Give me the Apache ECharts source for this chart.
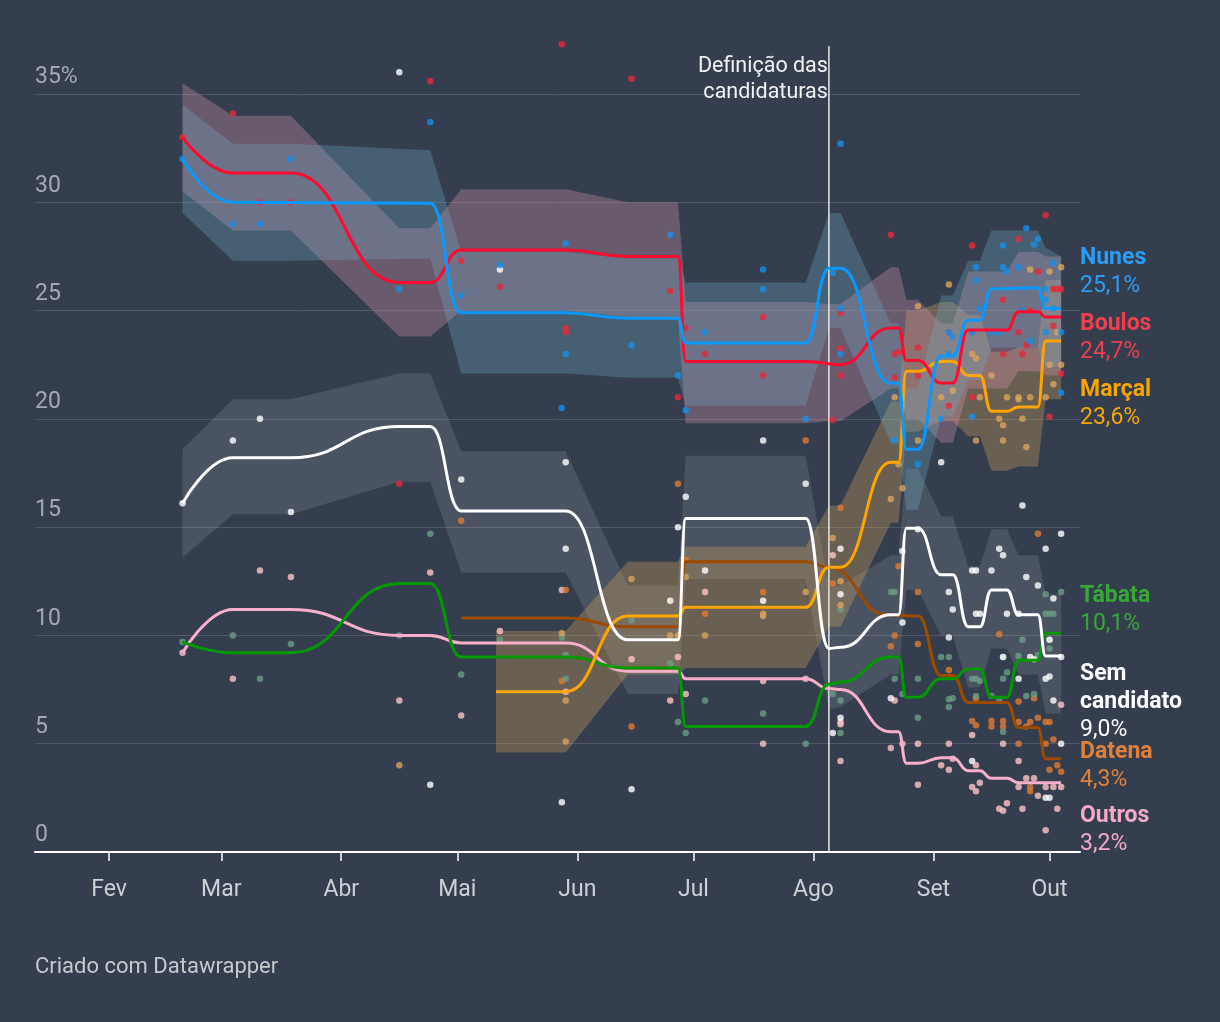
<!DOCTYPE html>
<html><head><meta charset="utf-8">
<script src="https://cdn.jsdelivr.net/npm/echarts@6/dist/echarts.min.js"></script>
<style>html,body{margin:0;padding:0;background:#343e4f;}#chart{width:1220px;height:1022px;}</style>
</head><body><div id="chart"></div>
<script>
// ---------- DATA ----------
const MONTH_TICKS = ['2024-02-01','2024-03-01','2024-04-01','2024-05-01','2024-06-01','2024-07-01','2024-08-01','2024-09-01','2024-10-01'];
const MONTH_LABELS = ['Fev','Mar','Abr','Mai','Jun','Jul','Ago','Set','Out'];
const ANNOT_DATE = '2024-08-05';
const ANNOT_TEXT = 'Definição das\ncandidaturas';

const NUNES_LINE = [['2024-02-20',32.0],['2024-03-04',30.0],['2024-04-24',29.95],['2024-05-02',24.9],['2024-05-29',24.9],['2024-06-14',24.65],['2024-06-27',24.65],['2024-06-29',23.5],['2024-07-30',23.5],['2024-08-05',26.95],['2024-08-08',26.95],['2024-08-21',21.65],['2024-08-23',21.65],['2024-08-25',18.6],['2024-08-28',18.6],['2024-09-03',22.9],['2024-09-06',22.9],['2024-09-10',24.55],['2024-09-13',24.55],['2024-09-16',26.0],['2024-09-28',26.05],['2024-09-30',25.1],['2024-10-04',25.1]];
const BOULOS_LINE = [['2024-02-20',33.0],['2024-03-04',31.35],['2024-03-19',31.35],['2024-04-16',26.3],['2024-04-24',26.3],['2024-05-02',27.8],['2024-05-29',27.8],['2024-06-14',27.5],['2024-06-27',27.5],['2024-06-29',22.65],['2024-07-30',22.65],['2024-08-08',22.5],['2024-08-21',24.2],['2024-08-23',24.2],['2024-08-25',22.7],['2024-08-28',22.7],['2024-09-03',21.65],['2024-09-06',21.65],['2024-09-10',24.1],['2024-09-20',24.1],['2024-09-23',24.95],['2024-09-28',24.95],['2024-09-30',24.7],['2024-10-04',24.7]];
const MARCAL_LINE = [['2024-05-11',7.4],['2024-05-29',7.4],['2024-06-14',10.9],['2024-06-27',10.9],['2024-06-29',11.3],['2024-07-30',11.3],['2024-08-05',13.15],['2024-08-08',13.15],['2024-08-21',18.0],['2024-08-23',18.0],['2024-08-25',22.2],['2024-08-28',22.2],['2024-09-03',22.65],['2024-09-06',22.65],['2024-09-10',22.0],['2024-09-13',22.0],['2024-09-16',20.35],['2024-09-20',20.35],['2024-09-23',20.55],['2024-09-28',20.55],['2024-09-30',23.6],['2024-10-04',23.6]];
const SEM_LINE = [['2024-02-20',16.1],['2024-03-04',18.2],['2024-03-19',18.2],['2024-04-16',19.65],['2024-04-24',19.65],['2024-05-02',15.75],['2024-05-29',15.75],['2024-06-14',9.8],['2024-06-27',9.8],['2024-06-29',15.4],['2024-07-30',15.4],['2024-08-05',9.4],['2024-08-08',9.45],['2024-08-21',10.95],['2024-08-23',10.95],['2024-08-25',14.95],['2024-08-28',14.95],['2024-09-03',12.8],['2024-09-06',12.8],['2024-09-10',10.4],['2024-09-13',10.4],['2024-09-16',12.1],['2024-09-20',12.1],['2024-09-23',10.95],['2024-09-28',10.95],['2024-09-30',9.05],['2024-10-04',9.05]];
const TABATA_LINE = [['2024-02-20',9.7],['2024-03-04',9.2],['2024-03-19',9.2],['2024-04-16',12.4],['2024-04-24',12.4],['2024-05-02',9.0],['2024-05-29',9.0],['2024-06-14',8.5],['2024-06-27',8.5],['2024-06-29',5.8],['2024-07-30',5.8],['2024-08-05',7.75],['2024-08-08',7.85],['2024-08-21',9.0],['2024-08-23',9.0],['2024-08-25',7.15],['2024-08-28',7.15],['2024-09-03',8.0],['2024-09-06',8.0],['2024-09-10',8.45],['2024-09-13',8.45],['2024-09-16',7.15],['2024-09-20',7.15],['2024-09-23',8.85],['2024-09-28',8.85],['2024-09-30',10.1],['2024-10-04',10.1]];
const DATENA_LINE = [['2024-05-02',10.8],['2024-05-29',10.8],['2024-06-14',10.4],['2024-06-27',10.4],['2024-06-29',13.4],['2024-07-30',13.4],['2024-08-05',13.15],['2024-08-20',10.95],['2024-08-28',10.9],['2024-09-03',8.15],['2024-09-06',8.15],['2024-09-10',6.9],['2024-09-20',6.9],['2024-09-23',5.75],['2024-09-28',5.75],['2024-09-30',4.3],['2024-10-04',4.3]];
const OUTROS_LINE = [['2024-02-20',9.2],['2024-03-04',11.2],['2024-03-19',11.2],['2024-04-16',10.0],['2024-04-24',10.0],['2024-05-02',9.65],['2024-05-29',9.65],['2024-06-14',8.35],['2024-06-27',8.35],['2024-06-29',8.0],['2024-07-30',8.0],['2024-08-05',7.55],['2024-08-08',7.5],['2024-08-21',5.55],['2024-08-23',5.55],['2024-08-25',4.1],['2024-08-28',4.1],['2024-09-03',4.35],['2024-09-06',4.35],['2024-09-10',3.75],['2024-09-13',3.75],['2024-09-16',3.4],['2024-09-20',3.4],['2024-09-23',3.2],['2024-10-04',3.2]];

// bands: [date, low, high]
const NUNES_BAND = [['2024-02-20',29.5,34.5],['2024-03-04',27.3,32.7],['2024-03-19',27.3,32.7],['2024-04-24',27.4,32.4],['2024-05-02',22.1,27.7],['2024-05-29',22.1,27.7],['2024-06-14',21.9,27.4],['2024-06-27',21.9,27.4],['2024-06-29',20.6,26.3],['2024-07-30',20.6,26.3],['2024-08-05',24.2,29.5],['2024-08-08',24.2,29.5],['2024-08-21',18.9,24.4],['2024-08-23',18.9,24.4],['2024-08-25',15.8,21.4],['2024-08-28',15.8,21.4],['2024-09-03',20.1,25.7],['2024-09-06',20.1,25.7],['2024-09-10',21.8,27.3],['2024-09-13',21.8,27.3],['2024-09-16',23.3,28.7],['2024-09-28',23.3,28.7],['2024-09-30',22.4,27.9],['2024-10-04',22.4,27.5]];
const BOULOS_BAND = [['2024-02-20',30.5,35.5],['2024-03-04',28.7,34.0],['2024-03-19',28.7,34.0],['2024-04-16',23.8,28.8],['2024-04-24',23.8,28.8],['2024-05-02',25.0,30.6],['2024-05-29',25.0,30.6],['2024-06-14',24.7,30.0],['2024-06-27',24.7,30.0],['2024-06-29',19.8,25.4],['2024-07-30',19.8,25.4],['2024-08-05',19.9,25.3],['2024-08-08',19.9,25.3],['2024-08-21',21.4,27.0],['2024-08-23',21.4,27.0],['2024-08-25',20.0,25.5],['2024-08-28',20.0,25.5],['2024-09-03',18.9,24.4],['2024-09-06',18.9,24.4],['2024-09-10',21.4,26.8],['2024-09-20',21.4,26.8],['2024-09-23',22.2,27.7],['2024-09-28',22.2,27.7],['2024-09-30',22.0,27.5],['2024-10-04',22.0,27.5]];
const SEM_BAND = [['2024-02-20',13.6,18.6],['2024-03-04',15.6,20.9],['2024-03-19',15.6,20.9],['2024-04-16',17.1,22.1],['2024-04-24',17.1,22.1],['2024-05-02',12.9,18.5],['2024-05-29',12.9,18.5],['2024-06-14',7.3,12.3],['2024-06-27',7.3,12.3],['2024-06-29',12.6,18.3],['2024-07-30',12.6,18.3],['2024-08-05',6.6,12.2],['2024-08-08',6.7,12.3],['2024-08-21',8.2,13.7],['2024-08-23',8.2,13.7],['2024-08-25',12.1,17.7],['2024-08-28',12.1,17.7],['2024-09-03',10.0,15.5],['2024-09-06',10.0,15.5],['2024-09-10',7.6,13.2],['2024-09-13',7.6,13.2],['2024-09-16',9.4,14.9],['2024-09-20',9.4,14.9],['2024-09-23',8.2,13.7],['2024-09-28',8.2,13.7],['2024-09-30',6.4,11.9],['2024-10-04',6.4,11.9]];
const MARCAL_BAND = [['2024-05-11',4.6,10.2],['2024-05-29',4.6,10.2],['2024-06-14',8.2,13.4],['2024-06-27',8.2,13.4],['2024-06-29',8.5,14.1],['2024-07-30',8.5,14.1],['2024-08-05',10.4,16.0],['2024-08-08',10.4,16.0],['2024-08-21',15.2,20.8],['2024-08-23',15.2,20.8],['2024-08-25',19.4,25.0],['2024-08-28',19.4,25.0],['2024-09-03',19.9,25.4],['2024-09-06',19.9,25.4],['2024-09-10',19.2,24.8],['2024-09-13',19.2,24.8],['2024-09-16',17.6,23.1],['2024-09-20',17.6,23.1],['2024-09-23',17.8,23.3],['2024-09-28',17.8,23.3],['2024-09-30',20.9,26.4],['2024-10-04',20.9,26.4]];

// poll dots
const NUNES_DOTS = [['2024-02-20',32.0],['2024-03-04',29.0],['2024-03-11',29.0],['2024-03-19',32.0],['2024-04-16',26.0],['2024-04-24',33.7],['2024-05-02',25.7],['2024-05-12',27.1],['2024-05-28',20.5],['2024-05-29',28.1],['2024-05-29',23.0],['2024-06-15',23.4],['2024-06-25',28.5],['2024-06-27',22.0],['2024-06-29',20.4],['2024-07-04',24.0],['2024-07-19',26.9],['2024-07-19',26.0],['2024-07-30',20.0],['2024-08-06',26.75],['2024-08-08',32.7],['2024-08-08',25.1],['2024-08-08',23.0],['2024-08-22',19.0],['2024-08-28',17.9],['2024-09-03',20.0],['2024-09-05',24.0],['2024-09-06',23.8],['2024-09-05',23.0],['2024-09-11',24.0],['2024-09-11',20.1],['2024-09-12',27.0],['2024-09-12',26.4],['2024-09-13',25.1],['2024-09-16',24.0],['2024-09-18',24.0],['2024-09-19',28.0],['2024-09-19',27.0],['2024-09-20',26.8],['2024-09-23',27.0],['2024-09-24',25.0],['2024-09-25',28.8],['2024-09-26',23.6],['2024-09-27',28.05],['2024-09-28',28.3],['2024-09-30',26.0],['2024-09-30',25.5],['2024-09-30',24.0],['2024-10-02',27.2],['2024-10-02',25.1],['2024-10-04',24.0],['2024-10-04',21.2]];
const BOULOS_DOTS = [['2024-02-20',33.0],['2024-03-04',34.1],['2024-03-11',30.0],['2024-03-19',30.0],['2024-04-16',17.0],['2024-04-24',35.6],['2024-05-02',27.3],['2024-05-12',26.1],['2024-05-28',37.3],['2024-05-29',24.2],['2024-05-29',24.0],['2024-06-15',35.7],['2024-06-25',25.9],['2024-06-27',21.0],['2024-06-29',24.2],['2024-07-04',23.0],['2024-07-19',24.7],['2024-07-19',22.0],['2024-08-06',19.95],['2024-08-08',24.9],['2024-08-08',23.25],['2024-08-08',22.0],['2024-08-21',28.5],['2024-08-22',23.0],['2024-08-22',21.9],['2024-08-23',23.1],['2024-08-28',23.3],['2024-08-28',22.0],['2024-09-05',24.0],['2024-09-05',20.6],['2024-09-11',28.0],['2024-09-11',24.0],['2024-09-11',21.0],['2024-09-19',25.5],['2024-09-19',23.0],['2024-09-23',28.3],['2024-09-23',24.0],['2024-09-24',23.0],['2024-09-25',23.4],['2024-09-26',25.0],['2024-09-28',26.8],['2024-09-30',29.4],['2024-10-01',20.1],['2024-10-02',24.3],['2024-10-02',26.0],['2024-10-03',26.0],['2024-10-04',26.0],['2024-10-04',22.1]];
const MARCAL_DOTS = [['2024-04-16',4.0],['2024-05-28',10.1],['2024-05-29',7.0],['2024-05-29',5.1],['2024-06-15',12.6],['2024-06-25',10.0],['2024-06-27',10.0],['2024-06-29',12.7],['2024-07-04',10.0],['2024-07-19',11.0],['2024-07-19',10.9],['2024-07-30',12.0],['2024-08-06',14.5],['2024-08-08',12.5],['2024-08-08',11.4],['2024-08-21',16.3],['2024-08-22',21.0],['2024-08-23',17.9],['2024-08-24',16.8],['2024-08-28',25.2],['2024-08-28',19.0],['2024-09-03',21.0],['2024-09-05',26.2],['2024-09-06',21.3],['2024-09-11',23.0],['2024-09-12',22.8],['2024-09-12',19.0],['2024-09-13',21.0],['2024-09-16',22.0],['2024-09-18',20.0],['2024-09-19',19.7],['2024-09-19',19.0],['2024-09-20',21.0],['2024-09-23',21.0],['2024-09-23',20.9],['2024-09-24',20.0],['2024-09-25',18.7],['2024-09-26',21.0],['2024-09-26',26.9],['2024-09-30',21.0],['2024-10-01',26.8],['2024-10-01',22.5],['2024-10-02',21.6],['2024-10-03',24.0],['2024-10-04',27.0],['2024-10-04',22.5]];
const DATENA_DOTS = [['2024-05-02',15.3],['2024-05-28',7.9],['2024-05-29',12.1],['2024-06-15',5.8],['2024-06-27',17.0],['2024-06-29',13.5],['2024-07-04',11.0],['2024-07-19',12.0],['2024-07-30',19.0],['2024-08-06',12.4],['2024-08-08',15.9],['2024-08-21',9.5],['2024-08-22',10.0],['2024-08-23',13.2],['2024-08-28',12.0],['2024-08-28',9.6],['2024-09-05',8.4],['2024-09-11',6.05],['2024-09-12',5.85],['2024-09-12',7.1],['2024-09-16',6.05],['2024-09-16',5.8],['2024-09-18',10.05],['2024-09-19',6.05],['2024-09-19',5.8],['2024-09-23',6.95],['2024-09-23',6.0],['2024-09-23',5.0],['2024-09-25',5.8],['2024-09-26',6.0],['2024-09-26',3.0],['2024-09-26',2.8],['2024-09-27',7.1],['2024-09-28',6.2],['2024-09-28',14.7],['2024-09-30',6.0],['2024-09-30',5.0],['2024-10-01',6.0],['2024-10-01',3.8],['2024-10-02',5.2],['2024-10-03',4.0],['2024-10-04',3.7]];
const TABATA_DOTS = [['2024-02-20',9.7],['2024-03-04',10.0],['2024-03-11',8.0],['2024-03-19',9.6],['2024-04-16',10.0],['2024-04-24',14.7],['2024-05-02',8.2],['2024-05-12',9.8],['2024-05-28',9.9],['2024-05-29',9.1],['2024-05-29',8.0],['2024-06-15',10.7],['2024-06-25',8.7],['2024-06-27',6.0],['2024-06-29',5.5],['2024-07-04',7.0],['2024-07-19',6.4],['2024-07-30',5.0],['2024-08-06',7.3],['2024-08-08',11.2],['2024-08-08',7.0],['2024-08-08',5.5],['2024-08-21',12.0],['2024-08-22',12.0],['2024-08-22',8.0],['2024-08-24',7.3],['2024-08-28',8.0],['2024-08-28',6.2],['2024-09-03',9.0],['2024-09-05',9.0],['2024-09-05',7.05],['2024-09-05',6.7],['2024-09-06',7.1],['2024-09-11',8.0],['2024-09-12',8.0],['2024-09-12',7.2],['2024-09-13',7.9],['2024-09-16',7.2],['2024-09-18',7.0],['2024-09-19',9.0],['2024-09-19',8.0],['2024-09-19',5.55],['2024-09-20',8.3],['2024-09-23',9.05],['2024-09-24',9.8],['2024-09-25',7.2],['2024-09-27',7.3],['2024-09-28',9.1],['2024-09-30',11.9],['2024-09-30',11.0],['2024-10-01',11.0],['2024-10-01',9.8],['2024-10-01',9.4],['2024-10-02',11.0],['2024-10-04',12.0]];
const SEM_DOTS = [['2024-02-20',16.1],['2024-03-04',19.0],['2024-03-11',20.0],['2024-03-19',15.7],['2024-04-16',36.0],['2024-04-24',3.1],['2024-05-02',17.2],['2024-05-12',26.9],['2024-05-28',2.3],['2024-05-29',18.0],['2024-05-29',14.0],['2024-06-15',2.9],['2024-06-25',11.6],['2024-06-27',15.0],['2024-06-29',16.4],['2024-07-04',13.0],['2024-07-19',19.0],['2024-07-19',11.6],['2024-07-30',17.0],['2024-08-06',5.5],['2024-08-08',14.0],['2024-08-08',11.9],['2024-08-08',6.2],['2024-08-21',7.1],['2024-08-24',13.9],['2024-08-24',10.6],['2024-08-28',14.9],['2024-09-03',18.0],['2024-09-05',12.0],['2024-09-05',9.9],['2024-09-06',11.2],['2024-09-11',13.0],['2024-09-11',4.2],['2024-09-12',13.0],['2024-09-12',11.0],['2024-09-13',11.0],['2024-09-16',13.0],['2024-09-18',14.0],['2024-09-19',13.7],['2024-09-19',9.0],['2024-09-20',11.0],['2024-09-23',11.0],['2024-09-23',8.0],['2024-09-24',16.0],['2024-09-25',12.7],['2024-09-26',9.0],['2024-09-27',8.9],['2024-09-28',12.3],['2024-09-30',14.0],['2024-09-30',8.0],['2024-09-30',2.5],['2024-10-01',9.8],['2024-10-01',8.1],['2024-10-01',2.5],['2024-10-02',11.7],['2024-10-02',7.0],['2024-10-04',14.7],['2024-10-04',9.0],['2024-10-04',5.0]];
const OUTROS_DOTS = [['2024-02-20',9.2],['2024-03-04',8.0],['2024-03-11',13.0],['2024-03-19',12.7],['2024-04-16',7.0],['2024-04-24',12.9],['2024-05-02',6.3],['2024-05-12',10.2],['2024-05-28',12.1],['2024-05-29',7.4],['2024-06-15',8.9],['2024-06-25',7.0],['2024-06-27',9.0],['2024-06-29',7.3],['2024-07-04',12.0],['2024-07-19',7.9],['2024-07-19',5.0],['2024-07-30',8.0],['2024-08-06',13.7],['2024-08-08',6.0],['2024-08-08',5.9],['2024-08-08',4.2],['2024-08-21',4.8],['2024-08-22',7.0],['2024-08-24',5.0],['2024-08-28',5.0],['2024-08-28',3.1],['2024-09-03',4.0],['2024-09-05',5.0],['2024-09-05',3.8],['2024-09-06',4.3],['2024-09-11',5.4],['2024-09-11',3.0],['2024-09-12',4.0],['2024-09-12',2.8],['2024-09-13',3.2],['2024-09-18',2.0],['2024-09-19',1.9],['2024-09-19',5.0],['2024-09-20',2.25],['2024-09-23',4.2],['2024-09-23',3.0],['2024-09-24',2.0],['2024-09-25',3.4],['2024-09-27',3.4],['2024-09-28',2.6],['2024-09-30',3.0],['2024-09-30',1.0],['2024-10-02',3.0],['2024-10-03',2.0],['2024-10-04',3.0],['2024-10-04',6.8]];

const LABEL_NAMES = [['Nunes'],['Boulos'],['Marçal'],['Tábata'],['Sem','candidato'],['Datena'],['Outros']];
const LABEL_VALUES = ['25,1%','24,7%','23,6%','10,1%','9,0%','4,3%','3,2%'];
const FOOTER = 'Criado com Datawrapper';

// ---------- RENDER ----------
const FONT = 'Roboto, "Noto Sans", sans-serif';
const toTs = s => { const p = s.split('-').map(Number); return new Date(p[0], p[1]-1, p[2]).getTime(); };
const pts = arr => arr.map(r => [toTs(r[0])].concat(r.slice(1)));

function lineSeries(name, data, color, z) {
  return {name, type:'line', data: pts(data), smooth:0.5, smoothMonotone:'x', showSymbol:false, symbol:'none',
    lineStyle:{color, width:3}, itemStyle:{color}, z, silent:true, clip:false};
}
function dotSeries(name, data, color) {
  return {name, type:'scatter', data: pts(data), symbolSize:6.5, itemStyle:{color}, z:3, silent:true, clip:false};
}
function bandSeries(name, data, color, z) {
  const rows = pts(data);
  return {name, type:'custom', data: rows, encode:{x:0, y:[1,2]}, z, silent:true, clip:false,
    renderItem(params, api) {
      if (params.dataIndex !== 0) return null;
      const up = rows.map(r => api.coord([r[0], r[2]]));
      const lo = rows.map(r => api.coord([r[0], r[1]])).reverse();
      return {type:'polygon', shape:{points: up.concat(lo)}, style:{fill: color}};
    }};
}

const LABEL_COLORS = ['#2a9df4','#f0404f','#f7a600','#35a835','#ffffff','#e0803a','#f5a9c6'];
const LABEL_TOPS = [258, 324, 390, 596, 674, 752, 816];
const LINE_H = 28;
const graphics = [];
LABEL_NAMES.forEach((lines, i) => {
  lines.forEach((t, j) => graphics.push({type:'text', x:1080, y:LABEL_TOPS[i] + j*LINE_H, silent:true,
    style:{text:t, fill:LABEL_COLORS[i], fontSize:23, fontWeight:'bold', fontFamily:FONT, align:'left', verticalAlign:'middle'}}));
  graphics.push({type:'text', x:1080, y:LABEL_TOPS[i] + lines.length*LINE_H, silent:true,
    style:{text:LABEL_VALUES[i], fill:LABEL_COLORS[i], fontSize:23, fontFamily:FONT, align:'left', verticalAlign:'middle'}});
});
graphics.push({type:'text', x:35, y:967, silent:true, style:{text:FOOTER, fill:'#c6c9ce', fontSize:22, fontFamily:FONT, align:'left', verticalAlign:'middle'}});

const annotSeries = {
  type:'custom', data:[[toTs(ANNOT_DATE), 0]], z:2, silent:true, clip:false,
  renderItem(params, api) {
    const b = api.coord([toTs(ANNOT_DATE), 0]);
    const t = api.coord([toTs(ANNOT_DATE), 37.2]);
    const tx = api.coord([toTs(ANNOT_DATE), 35.66]);
    return {type:'group', children:[
      {type:'line', shape:{x1:b[0], y1:b[1], x2:t[0], y2:t[1]}, style:{stroke:'#e8e8e8', lineWidth:1.5}},
      {type:'text', x:tx[0]-1, y:tx[1], style:{text:ANNOT_TEXT, fill:'#f2f2f2', fontSize:21.5, fontFamily:FONT, align:'right', verticalAlign:'middle', lineHeight:25.5}}
    ]};
  }
};

const chart = echarts.init(document.getElementById('chart'), null, {renderer:'canvas'});
chart.setOption({
  backgroundColor:'#343e4f',
  animation:false,
  grid:{left:35, right:140, top:94, bottom:170, containLabel:false},
  xAxis:{
    type:'value',
    min:new Date(2024,0,12,21).getTime(),
    max:new Date(2024,9,8,21).getTime(),
    axisLine:{show:true, lineStyle:{color:'#ffffff', width:2}},
    axisTick:{show:true, customValues:MONTH_TICKS.map(toTs), length:9, lineStyle:{color:'#ffffff', width:1.5}},
    axisLabel:{customValues:MONTH_TICKS.map(toTs), margin:27, color:'#cdd0d5', fontSize:23, fontFamily:FONT,
      formatter:(v) => MONTH_LABELS[new Date(v).getMonth() - 1]},
    splitLine:{show:false}
  },
  yAxis:{
    type:'value', min:0, max:35, interval:5,
    axisLine:{show:false}, axisTick:{show:false},
    axisLabel:{inside:true, margin:0, color:'#a4a9b2', fontSize:23, fontFamily:FONT, verticalAlign:'bottom', padding:[0,0,5,0],
      formatter:(v) => v === 35 ? '35%' : String(v)},
    splitLine:{lineStyle:{color:'#505966', width:1}}
  },
  graphic: graphics,
  series:[
    bandSeries('semBand', SEM_BAND, 'rgba(255,255,255,0.11)', 1),
    bandSeries('marcalBand', MARCAL_BAND, 'rgba(229,172,92,0.3)', 1),
    bandSeries('boulosBand', BOULOS_BAND, 'rgba(232,155,182,0.3)', 1),
    bandSeries('nunesBand', NUNES_BAND, 'rgba(112,172,196,0.3)', 1),
    annotSeries,
    dotSeries('Outros', OUTROS_DOTS, '#ffc4c4'),
    dotSeries('Datena', DATENA_DOTS, '#e07a32'),
    dotSeries('Tábata', TABATA_DOTS, '#6a9e84'),
    dotSeries('Marçal', MARCAL_DOTS, '#d9a35e'),
    dotSeries('Sem candidato', SEM_DOTS, '#ffffff'),
    dotSeries('Boulos', BOULOS_DOTS, '#e8283a'),
    dotSeries('Nunes', NUNES_DOTS, '#1490e8'),
    lineSeries('Outros', OUTROS_LINE, '#f8afcb', 4),
    lineSeries('Datena', DATENA_LINE, '#9c4a00', 4),
    lineSeries('Tábata', TABATA_LINE, '#009900', 4),
    lineSeries('Marçal', MARCAL_LINE, '#ffa500', 4),
    lineSeries('Sem candidato', SEM_LINE, '#ffffff', 4),
    lineSeries('Boulos', BOULOS_LINE, '#ff0a30', 4),
    lineSeries('Nunes', NUNES_LINE, '#0a98ff', 4)
  ]
});
</script>
</body></html>
